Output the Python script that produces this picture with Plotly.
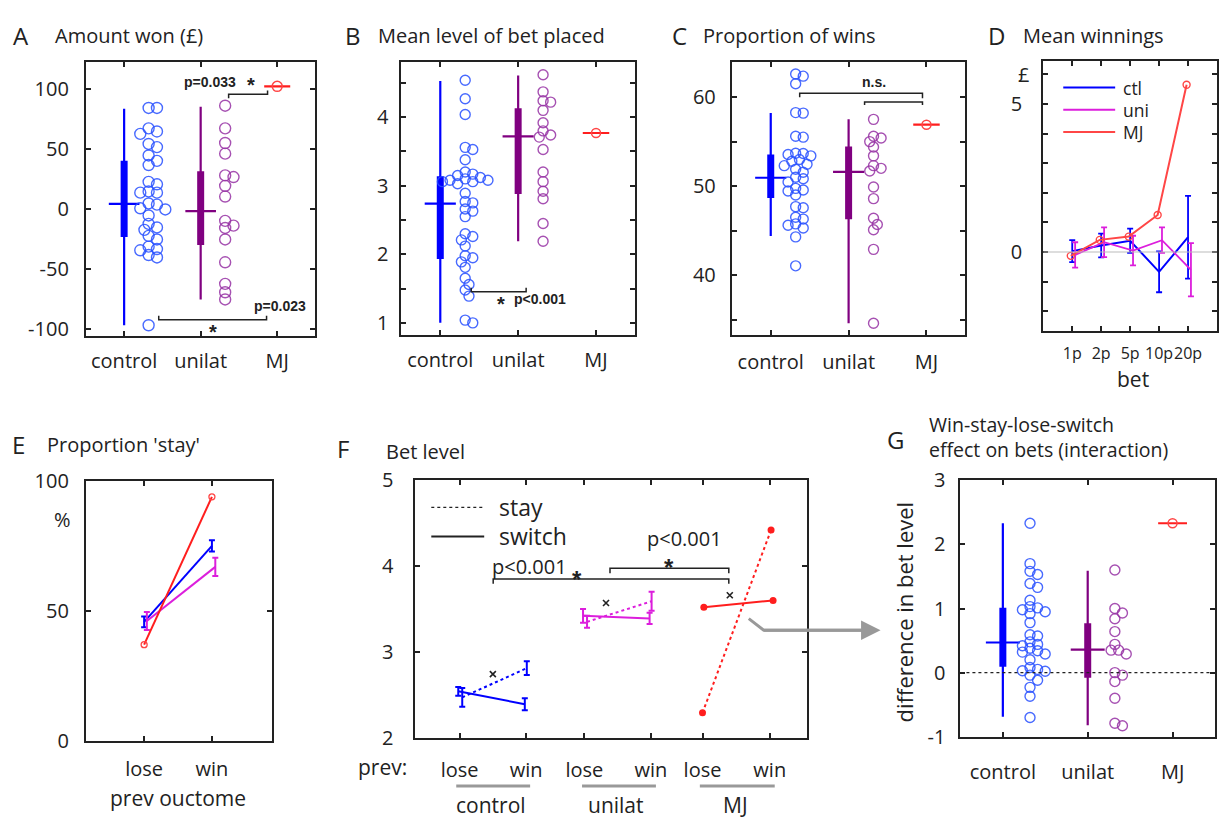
import numpy as np
import plotly.graph_objects as go

W, H = 1219, 830
FONT = "Open Sans"
SFONT = "Liberation Sans"
INK = "#222222"

# ------------------------------------------------------------------ data
groups = ["control", "unilat", "MJ"]

# A: amount won (GBP)
A_ctl = [84.6, 84.6, 67.6, 65, 63, 54.6, 52, 45, 40.5, 37, 23, 21, 15, 14, 14, 5, 4, 1, 0,
         -5, -12, -15, -17, -22, -25, -31, -33, -34, -38, -40, -96.5]
A_uni = [86.5, 67.6, 55.4, 46.5, 28.4, 27, 19.7, 10.8, -9.5, -13.5, -15.4, -25, -44, -62, -69, -75]
A_mj = 102.6
A_ctl_stats = [-96.5, -23, 4.6, 40.5, 84]      # min, q1, mean, q3, max
A_uni_stats = [-75, -29.7, -1.4, 31.9, 85.7]
A_ticks = [-100, -50, 0, 50, 100]

# B: mean level of bet placed
B_ctl = [4.54, 4.27, 4.04, 3.56, 3.53, 3.38, 3.2, 3.17, 3.15, 3.12, 3.1, 3.08, 3.06, 3.08, 3.06,
         3.03, 2.89, 2.77, 2.75, 2.66, 2.63, 2.55, 2.3, 2.26, 2.21, 2.12, 1.98, 1.95, 1.89, 1.81,
         1.65, 1.56, 1.48, 1.39, 1.04, 1.0]
B_uni = [4.62, 4.37, 4.24, 4.22, 4.1, 3.92, 3.8, 3.74, 3.71, 3.53, 3.2, 3.06, 2.92, 2.81, 2.45, 2.19]
B_mj = 3.77
B_ctl_stats = [1.0, 1.93, 2.74, 3.14, 4.53]
B_uni_stats = [2.19, 2.88, 3.72, 4.13, 4.61]

# C: proportion of wins (%)
C_ctl = [62.6, 62.35, 61.5, 58.26, 58.2, 55.6, 55.5, 53.7, 53.66, 53.55, 53.4, 53.0, 52.8, 52.46,
         52.3, 51.9, 51.56, 51.0, 50.83, 50.47, 49.75, 49.57, 49.46, 49.0, 47.7, 47.57, 46.5, 46.3,
         45.76, 45.6, 45.3, 44.3, 41.05]
C_uni = [57.5, 55.6, 55.4, 55.0, 54.4, 53.4, 52.3, 52.0, 51.7, 49.9, 48.6, 46.4, 45.7, 45.1, 42.9, 34.6]
C_mj = 56.9
C_ctl_stats = [44.4, 48.66, 50.94, 53.55, 58.2]
C_uni_stats = [34.6, 46.27, 51.6, 54.46, 57.5]

# D: mean winnings by bet size
bet_labels = ["1p", "2p", "5p", "10p", "20p"]
bet_pos = [1, 2, 3, 4, 5]
D_ctl = [0.03, 0.22, 0.38, -0.67, 0.5]
D_ctl_err = [0.37, 0.4, 0.41, 0.69, 1.4]
D_uni = [-0.1, 0.33, 0.05, 0.4, -0.6]
D_uni_err = [0.43, 0.5, 0.5, 0.43, 0.9]
D_mj = [-0.13, 0.41, 0.52, 1.25, 5.65]
D_names = ["ctl", "uni", "MJ"]

# E: proportion 'stay' (%)
outcomes = ["lose", "win"]
E_ctl = [45.8, 75.1]
E_ctl_err = [2.1, 2.2]
E_uni = [46.1, 67.0]
E_uni_err = [3.5, 3.5]
E_mj = [37.0, 94.0]

# F: bet level after stay / switch
F_pos = [1, 2, 2.875, 3.875, 4.65, 5.66]
F_ticks = ["lose", "win", "lose", "win", "lose", "win"]
F_switch = [[2.54, 2.39], [3.42, 3.39], [3.52, 3.60]]
F_switch_err = [[0.05, 0.07], [0.08, 0.065], [0, 0]]
F_stay = [[2.47, 2.81], [3.35, 3.59], [2.29, 4.42]]
F_stay_err = [[0.11, 0.08], [0.07, 0.11], [0, 0]]
F_int_x = [1.5, 3.2, 5.06]
F_int_y = [2.74, 3.57, 3.66]
F_names = ["stay", "switch"]

# G: win-stay-lose-switch interaction
G_ctl = [2.33, 1.7, 1.58, 1.53, 1.39, 1.33, 1.13, 1.03, 1.01, 0.98, 0.95, 0.92, 0.78, 0.59, 0.57,
         0.48, 0.44, 0.42, 0.38, 0.34, 0.32, 0.29, 0.2, 0.08, 0.05, 0.03, 0.02, -0.04, -0.12,
         -0.23, -0.37, -0.7]
G_uni = [1.6, 1.0, 0.93, 0.84, 0.64, 0.44, 0.35, 0.35, 0.29, 0.0, -0.04, -0.14, -0.4, -0.79, -0.83]
G_mj = 2.33
G_ctl_stats = [-0.69, 0.09, 0.47, 1.01, 2.33]
G_uni_stats = [-0.82, -0.08, 0.36, 0.77, 1.59]
G_ticks = [-1, 0, 1, 2, 3]

# ------------------------------------------------------------------ layout geometry (px)
BOX = {
    "A": (86, 50, 316, 333),
    "B": (402, 50, 636, 332),
    "C": (733, 50, 967, 332),
    "D": (1045, 49, 1219, 328),
    "E": (86, 483, 272, 751),
    "F": (416, 482, 808, 748),
    "G": (962, 482, 1217, 747),
}
XR = {"A": [0.5, 3.5], "B": [0.5, 3.5], "C": [0.5, 3.5], "D": [0, 6],
      "E": [0.14, 2.88], "F": [0.335, 6.215], "G": [0.5, 3.5]}
YR = {"A": [-105.6, 122.6], "B": [0.82, 4.80], "C": [33.26, 63.9], "D": [-2.68, 6.44],
      "E": [0, 100], "F": [2, 5], "G": [-1, 3]}
AX = {"A": ("x", "y"), "B": ("x2", "y2"), "C": ("x3", "y3"), "D": ("x4", "y4"),
      "E": ("x5", "y5"), "F": ("x6", "y6"), "G": ("x7", "y7")}

BLUE = "rgb(0,0,255)"
BLUE_PT = "rgba(40,80,255,0.85)"
PURPLE = "rgb(128,0,128)"
PURPLE_PT = "rgba(150,50,165,0.85)"
MAG = "rgb(220,30,220)"
RED = "rgb(255,30,30)"
RED_PT = "rgb(255,70,70)"


def scale(p):
    x0, y0, x1, y1 = BOX[p]
    sx = (x1 - x0) / (XR[p][1] - XR[p][0])
    sy = (y1 - y0) / (YR[p][1] - YR[p][0])
    return sx, sy


def swarm(vals, center, sx, sy, diam, mind=0.66, step=0.38):
    vals = np.asarray(vals, float)
    order = np.argsort(-vals)
    cand = [0.0]
    for j in range(1, 60):
        cand += [j * step * diam, -j * step * diam]
    placed = []
    xs = np.zeros(len(vals))
    for i in order:
        ypx = vals[i] * sy
        for c in cand:
            if all((c - px) ** 2 + (ypx - py) ** 2 >= (mind * diam) ** 2 for px, py in placed):
                break
        placed.append((c, ypx))
        xs[i] = center + c / sx
    return xs


fig = go.Figure()


def tr(p, **kw):
    xa, ya = AX[p]
    kw.setdefault("showlegend", False)
    kw.setdefault("hoverinfo", "skip")
    fig.add_trace(go.Scatter(xaxis=xa, yaxis=ya, **kw))


def dot_panel(p, ctl, uni, mj, cst, ust, msize):
    sx, sy = scale(p)
    for g, vals, st, lc, pc, nm in [(1, ctl, cst, BLUE, BLUE_PT, groups[0]),
                                    (2, uni, ust, PURPLE, PURPLE_PT, groups[1])]:
        tr(p, x=[g, g], y=[st[0], st[4]], mode="lines", line=dict(color=lc, width=2.2))
        tr(p, x=[g, g], y=[st[1], st[3]], mode="lines", line=dict(color=lc, width=7))
        tr(p, x=[g - 0.2, g + 0.2], y=[st[2], st[2]], mode="lines", line=dict(color=lc, width=2.2))
        xs = swarm(vals, g + 0.32, sx, sy, msize)
        tr(p, x=xs, y=vals, mode="markers", name=nm,
           marker=dict(symbol="circle-open", size=msize, color=pc, line=dict(width=1.4, color=pc)))
    tr(p, x=[3 - 0.17, 3 + 0.17], y=[mj, mj], mode="lines", line=dict(color=RED, width=2.2))
    tr(p, x=[3], y=[mj], mode="markers", name=groups[2],
       marker=dict(symbol="circle-open", size=msize - 1, color=RED_PT, line=dict(width=1.5, color=RED_PT)))


dot_panel("A", A_ctl, A_uni, A_mj, A_ctl_stats, A_uni_stats, 11)
dot_panel("B", B_ctl, B_uni, B_mj, B_ctl_stats, B_uni_stats, 10)
dot_panel("C", C_ctl, C_uni, C_mj, C_ctl_stats, C_uni_stats, 10)
dot_panel("G", G_ctl, G_uni, G_mj, G_ctl_stats, G_uni_stats, 10)

# D
tr("D", x=bet_pos, y=D_ctl, mode="lines", name=D_names[0], line=dict(color=BLUE, width=2),
   error_y=dict(type="data", array=D_ctl_err, color=BLUE, thickness=1.8, width=3))
tr("D", x=[b + 0.1 for b in bet_pos], y=D_uni, mode="lines", name=D_names[1], line=dict(color=MAG, width=1.8),
   error_y=dict(type="data", array=D_uni_err, color=MAG, thickness=1.8, width=3))
tr("D", x=[b - 0.05 for b in bet_pos], y=D_mj, mode="lines+markers", name=D_names[2],
   line=dict(color=RED_PT, width=2),
   marker=dict(symbol="circle-open", size=7, color=RED_PT, line=dict(width=1.4)))

# E
tr("E", x=[1, 2], y=E_ctl, mode="lines", line=dict(color=BLUE, width=2),
   error_y=dict(type="data", array=E_ctl_err, color=BLUE, thickness=2, width=3))
tr("E", x=[1.04, 2.05], y=E_uni, mode="lines", line=dict(color=MAG, width=2),
   error_y=dict(type="data", array=E_uni_err, color=MAG, thickness=2, width=3))
tr("E", x=[1, 2], y=E_mj, mode="lines+markers", line=dict(color=RED, width=2),
   marker=dict(symbol="circle-open", size=6, color=RED_PT, line=dict(width=1.3)))

# F
for gi, col in enumerate([BLUE, MAG, RED]):
    xl, xw = F_pos[2 * gi], F_pos[2 * gi + 1]
    if gi < 2:
        tr("F", x=[xl - 0.02, xw - 0.02], y=F_switch[gi], mode="lines", line=dict(color=col, width=2),
           error_y=dict(type="data", array=F_switch_err[gi], color=col, thickness=2, width=3))
        tr("F", x=[xl + 0.04, xw + 0.01], y=F_stay[gi], mode="lines", line=dict(color=col, width=2, dash="dot"),
           error_y=dict(type="data", array=F_stay_err[gi], color=col, thickness=2, width=3))
    else:
        tr("F", x=[xl + 0.02, xw + 0.05], y=F_switch[gi], mode="lines+markers", line=dict(color=col, width=2),
           marker=dict(size=7, color=col))
        tr("F", x=[xl, xw + 0.02], y=F_stay[gi], mode="lines+markers", line=dict(color=col, width=2, dash="dot"),
           marker=dict(size=7, color=col))
tr("F", x=F_int_x, y=F_int_y, mode="markers",
   marker=dict(symbol="x-thin-open", size=6, color=INK, line=dict(width=1.6, color=INK)))


# ------------------------------------------------------------------ axes
def axbase():
    return dict(showline=True, linecolor=INK, linewidth=2, mirror="ticks", ticks="inside",
                ticklen=5, tickwidth=1.5, tickcolor=INK, showgrid=False, zeroline=False,
                tickfont=dict(family=FONT, size=20, color=INK), fixedrange=True, tickangle=0)


layout_axes = {}
XSTAND = {"A": 6, "B": 6, "C": 8, "D": 6, "E": 9, "F": 13, "G": 16}
YSTAND = {"A": 11, "B": 7, "C": 10, "D": 15, "E": 11, "F": 16, "G": 9}
for p in "ABCDEFG":
    x0, y0, x1, y1 = BOX[p]
    xa, ya = AX[p]
    xk = "xaxis" if xa == "x" else "xaxis" + xa[1:]
    yk = "yaxis" if ya == "y" else "yaxis" + ya[1:]
    xd = axbase()
    yd = axbase()
    xd.update(domain=[x0 / W, x1 / W], range=XR[p], anchor=ya, ticklabelstandoff=XSTAND[p])
    yd.update(domain=[1 - y1 / H, 1 - y0 / H], range=YR[p], anchor=xa, ticklabelstandoff=YSTAND[p])
    layout_axes[xk] = xd
    layout_axes[yk] = yd

for k in ["xaxis", "xaxis2", "xaxis3", "xaxis7"]:
    layout_axes[k].update(tickvals=[1, 2, 3], ticktext=groups)
layout_axes["yaxis"].update(tickvals=A_ticks, ticktext=[str(v) for v in A_ticks])
layout_axes["yaxis2"].update(tickvals=[1, 2, 3, 4], minor=dict(dtick=0.5, ticks="inside", ticklen=5, tickcolor=INK))
layout_axes["yaxis3"].update(tickvals=[40, 50, 60], minor=dict(dtick=5, ticks="inside", ticklen=5, tickcolor=INK))
layout_axes["xaxis4"].update(tickvals=bet_pos, ticktext=bet_labels, tickfont=dict(family=FONT, size=16, color=INK))
dvals = list(range(-2, 7))
layout_axes["yaxis4"].update(tickvals=dvals, ticktext=[str(v) if v in (0, 5) else "" for v in dvals])
layout_axes["xaxis5"].update(tickvals=[1, 2], ticktext=outcomes)
layout_axes["yaxis5"].update(tickvals=[0, 50, 100])
layout_axes["xaxis6"].update(tickvals=F_pos, ticktext=F_ticks)
layout_axes["yaxis6"].update(tickvals=[2, 3, 4, 5])
layout_axes["yaxis7"].update(tickvals=G_ticks, ticktext=[str(v) for v in G_ticks])


# ------------------------------------------------------------------ annotations
def P(x, y):
    return x / W, 1 - y / H


def ann(x, y, text, size=20, xanchor="center", family=FONT, **kw):
    px, py = P(x, y)
    return dict(x=px, y=py, xref="paper", yref="paper", text=text, showarrow=False,
                font=dict(size=size, family=family, color=INK), xanchor=xanchor, yanchor="middle", **kw)


anns = [
    ann(21, 22, "A", 24), ann(53, 22, "Amount won (£)", 20, "left"),
    ann(354, 22, "B", 24), ann(377, 22, "Mean level of bet placed", 20, "left"),
    ann(681, 22, "C", 24), ann(702, 22, "Proportion of wins", 20, "left"),
    ann(998, 22, "D", 24), ann(1023, 22, "Mean winnings", 20, "left"),
    ann(19, 445, "E", 24), ann(45, 445, "Proportion 'stay'", 20, "left"),
    ann(344, 449, "F", 24), ann(385, 452, "Bet level", 20, "left"),
    ann(897, 440, "G", 24),
    ann(929, 437, "Win-stay-lose-switch<br>effect on bets (interaction)", 19.5, "left", align="left"),
    # significance labels
    ann(210, 70, "<b>p=0.033</b>", 14, family=SFONT), ann(251, 73, "<b>*</b>", 20, family=SFONT),
    ann(280, 302, "<b>p=0.023</b>", 14, family=SFONT), ann(213, 329, "<b>*</b>", 20, family=SFONT),
    ann(502, 300, "<b>*</b>", 20, family=SFONT), ann(541, 295, "<b>p&lt;0.001</b>", 14, family=SFONT),
    ann(875, 70, "<b>n.s.</b>", 14, family=SFONT),
    ann(530, 571, "p&lt;0.001", 20), ann(578, 584, "<b>*</b>", 24, family=SFONT),
    ann(686, 542, "p&lt;0.001", 20), ann(670, 572, "<b>*</b>", 24, family=SFONT),
    # axis labels
    ann(63, 523, "%", 20), ann(1025, 63, "£", 20),
    ann(1135, 377, "bet", 21), ann(178, 810, "prev ouctome", 21),
    ann(383, 778, "prev:", 21),
    ann(492, 818, "control", 21), ann(617, 818, "unilat", 21), ann(737, 818, "MJ", 21),
    ann(905, 618, "difference in bet level", 22, textangle=-90),
]
# legend texts (D and F)
D_leg_y = [76, 99, 122]
for name, yy in zip(D_names, D_leg_y):
    anns.append(ann(1123, yy, name, 17.5, "left"))
F_leg_y = [510, 540]
for name, yy in zip(F_names, F_leg_y):
    anns.append(ann(498, yy, name, 23, "left"))

# arrow head from F to G
hx, hy = P(882, 637)
anns.append(dict(x=hx, y=hy, xref="paper", yref="paper", ax=-118, ay=0, axref="pixel", ayref="pixel",
                 text="", showarrow=True, arrowhead=2, arrowsize=1.3, arrowwidth=3, arrowcolor="#999999"))


def bracket(x0, x1, y, e0, e1, w=1.5):
    a, b = P(x0, e0)
    c, d = P(x0, y)
    e, f = P(x1, y)
    g, h = P(x1, e1)
    return dict(type="path", xref="paper", yref="paper", path=f"M{a},{b} L{c},{d} L{e},{f} L{g},{h}",
                line=dict(color=INK, width=w))


def hline_px(x0, x1, y, color, width, dash="solid"):
    a, b = P(x0, y)
    c, d = P(x1, y)
    return dict(type="line", xref="paper", yref="paper", x0=a, y0=b, x1=c, y1=d,
                line=dict(color=color, width=width, dash=dash))


shapes = [
    bracket(229, 268, 83, 87, 79),
    bracket(159, 267, 316, 312, 312),
    bracket(472, 527, 287, 283, 283),
    bracket(801, 924, 82, 86, 87),
    bracket(866, 924, 91, 94, 94),
    bracket(494, 730, 584, 589, 589),
    bracket(611, 730, 573, 578, 578),
    hline_px(457, 531, 798, "#999999", 3),
    hline_px(583, 657, 798, "#999999", 3),
    hline_px(701, 776, 798, "#999999", 3),
    # legend keys
    hline_px(1065, 1117, D_leg_y[0], BLUE, 2),
    hline_px(1065, 1117, D_leg_y[1], MAG, 2),
    hline_px(1065, 1117, D_leg_y[2], RED_PT, 2),
    hline_px(432, 485, F_leg_y[0], INK, 1.3, "dot"),
    hline_px(432, 485, F_leg_y[1], INK, 2),
    dict(type="line", xref="x4 domain", yref="y4", x0=0, x1=1, y0=0, y1=0,
         line=dict(color="#bbbbbb", width=1)),
    dict(type="line", xref="x7 domain", yref="y7", x0=0, x1=1, y0=0, y1=0,
         line=dict(color=INK, width=1.2, dash="dot")),
]
a1, b1 = P(750, 625)
a2, b2 = P(765, 637)
a3, b3 = P(866, 637)
shapes.append(dict(type="path", xref="paper", yref="paper", path=f"M{a1},{b1} L{a2},{b2} L{a3},{b3}",
                   line=dict(color="#999999", width=3)))

fig.update_layout(
    width=W, height=H, margin=dict(l=0, r=0, t=0, b=0),
    paper_bgcolor="white", plot_bgcolor="white",
    font=dict(family=FONT, color=INK), showlegend=False,
    annotations=anns, shapes=shapes,
    **layout_axes,
)

fig.write_html("out.html", config={"displayModeBar": False},
               post_script="document.body.style.margin='0';document.body.style.overflow='hidden';")
